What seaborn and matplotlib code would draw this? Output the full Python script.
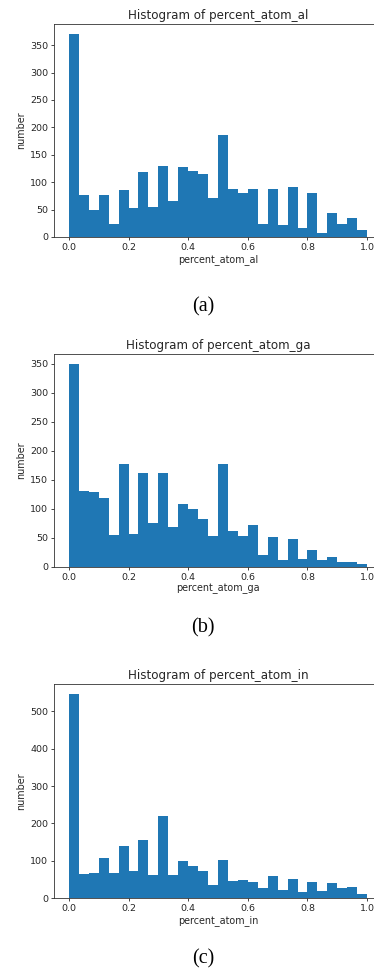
import numpy as np
import pandas as pd
import matplotlib
matplotlib.use("Agg")
import matplotlib.pyplot as plt
import seaborn as sns

n_bins = 30
bin_edges = np.linspace(0, 1, n_bins + 1)
bin_centers = (bin_edges[:-1] + bin_edges[1:]) / 2

counts_al = [370, 77, 50, 77, 24, 85, 53, 119, 54, 130, 65, 128, 120, 115, 72,
             186, 87, 81, 88, 24, 87, 22, 92, 17, 81, 8, 44, 24, 35, 12]
counts_ga = [349, 131, 129, 118, 55, 177, 56, 161, 76, 161, 68, 108, 100, 83, 53,
             178, 62, 54, 73, 21, 51, 12, 49, 14, 29, 12, 17, 9, 9, 6]
counts_in = [546, 64, 67, 106, 67, 139, 72, 155, 62, 220, 62, 98, 85, 72, 35,
             103, 46, 48, 43, 28, 58, 22, 50, 15, 43, 20, 40, 28, 30, 12]

names = ["percent_atom_al", "percent_atom_ga", "percent_atom_in"]
captions = ["(a)", "(b)", "(c)"]
all_counts = [counts_al, counts_ga, counts_in]

W, H = 374, 969
fig = plt.figure(figsize=(W / 100, H / 100), dpi=100)
fig.patch.set_facecolor("white")

# (top_px, bottom_px, caption_y_px)
layout = [(24, 237, 307), (354, 567, 628), (684, 898, 959)]
left_px, width_px = 54, 328

for name, cap, counts, (top, bot, cy) in zip(names, captions, all_counts, layout):
    ax = fig.add_axes([left_px / W, 1 - bot / H, width_px / W, (bot - top) / H])
    df = pd.DataFrame({name: bin_centers, "w": counts})
    sns.histplot(data=df, x=name, weights="w", bins=n_bins, binrange=(0, 1), ax=ax,
                 color="#1f77b4", alpha=1.0, linewidth=0, edgecolor="none")
    ax.set_xlim(-0.05, 1.05)
    ax.set_xticks([0.0, 0.2, 0.4, 0.6, 0.8, 1.0])
    ax.set_title(f"Histogram of {name}", fontsize=8.6, pad=3.5, color="#262626")
    ax.set_xlabel(name, fontsize=6.9, labelpad=1.5, color="#262626")
    ax.set_ylabel("number", fontsize=6.9, labelpad=3, color="#262626")
    ax.tick_params(labelsize=6.8, length=2.5, width=0.6, pad=1.8, colors="#262626")
    for s in ax.spines.values():
        s.set_linewidth(0.6)
        s.set_color("#333333")
    fig.text(203 / W, 1 - cy / H, cap, ha="center", va="center",
             fontsize=14.5, family="Liberation Serif", color="black")

fig.savefig("out.png", dpi=100)
